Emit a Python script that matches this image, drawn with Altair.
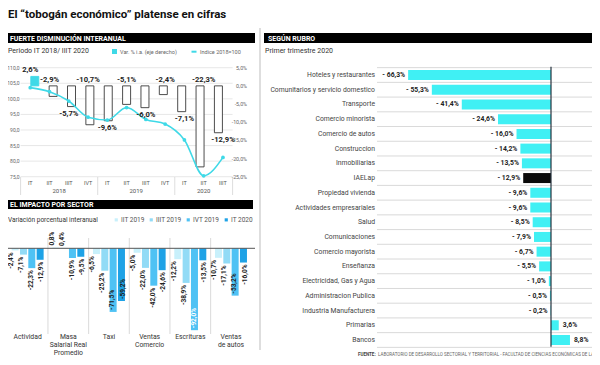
import altair as alt
import pandas as pd

FONT = "Roboto"

# ---------------- texts ----------------
title_text = "El “tobogán económico” platense en cifras"
head_left_1 = "FUERTE DISMINUCIÓN INTERANUAL"
sub_left_1 = "Periodo IT 2018/ IIIT 2020"
legend_1 = ["Var. % i.a. (eje derecho)", "Indice 2018=100"]
head_left_2 = "EL IMPACTO POR SECTOR"
sub_left_2 = "Variación porcentual interanual"
head_right = "SEGÚN RUBRO"
sub_right = "Primer trimestre 2020"
source_bold = "FUENTE:"
source_text = "LABORATORIO DE DESARROLLO SECTORIAL Y TERRITORIAL - FACULTAD DE CIENCIAS ECONÓMICAS DE LA UNLP"

# ---------------- chart 1 data ----------------
quarters = ["IT", "IIT", "IIIT", "IVT", "IT", "IIT", "IIIT", "IVT", "IT", "IIT", "IIIT"]
years = ["2018", "2018", "2018", "2018", "2019", "2019", "2019", "2019", "2020", "2020", "2020"]
var_ia = [2.6, -2.9, -5.7, -10.7, -9.6, -5.1, -6.0, -2.4, -7.1, -22.3, -12.9]
indice = [103.6, 102.3, 99.3, 94.1, 93.2, 97.2, 93.4, 91.9, 86.8, 75.3, 81.2]
label_side = ["top", "top", "bottom", "top", "bottom", "top", "bottom", "top", "bottom", "top", "bottom"]
idx_ticks = [75, 80, 85, 90, 95, 100, 105, 110]
pct_ticks = [-25, -20, -15, -10, -5, 0, 5]

# ---------------- chart 2 data ----------------
sectors = ["Actividad", "Masa\nSalarial Real\nPromedio", "Taxi", "Ventas\nComercio", "Escrituras", "Ventas\nde autos"]
series = ["IIT 2019", "IIIT 2019", "IVT 2019", "IT 2020"]
s_iit19 = [-2.4, 0.8, -6.5, -5.0, -12.2, -10.7]
s_iiit19 = [-7.1, 0.4, -25.2, -22.0, -38.9, -17.1]
s_ivt19 = [-22.3, -10.9, -71.5, -42.0, -92.0, -53.2]
s_it20 = [-12.9, -9.5, -59.2, -24.6, -13.5, -16.0]
series_colors = ["#c8f0fb", "#92dbf6", "#4fc2f4", "#1ea2e6"]

# ---------------- chart 3 data ----------------
rubros = ["Hoteles y restaurantes", "Comunitarios y servicio domestico", "Transporte",
          "Comercio minorista", "Comercio de autos", "Construccion", "Inmobiliarias", "IAELap",
          "Propiedad vivienda", "Actividades empresariales", "Salud", "Comunicaciones",
          "Comercio mayorista", "Enseñanza", "Electricidad, Gas y Agua", "Administracion Publica",
          "Industria Manufacturera", "Primarias", "Bancos"]
rubro_vals = [-66.3, -55.3, -41.4, -24.6, -16.0, -14.2, -13.5, -12.9, -9.6, -9.6, -8.5, -7.9,
              -6.7, -5.5, -1.0, -0.5, -0.2, 3.6, 8.8]

CY_LINE = "#3fd9e7"
CY_BAR = "#40f0f4"
TXT = "#333333"


def fmt(v, dec=1):
    return f"{v:.{dec}f}".replace(".", ",")


one = alt.Data(values=[{}])


def label(txt, x, y, size, color=TXT, weight="normal", align="left", baseline="middle"):
    return alt.Chart(one).mark_text(text=txt, font=FONT, fontSize=size, color=color,
                                    fontWeight=weight, align=align, baseline=baseline
                                    ).encode(x=alt.value(x), y=alt.value(y))


def box(x1, x2, y1, y2, color):
    return alt.Chart(one).mark_rect(color=color).encode(
        x=alt.value(x1), x2=alt.value(x2), y=alt.value(y1), y2=alt.value(y2))


def line(x1, x2, y1, y2, color, w=1.0):
    return alt.Chart(one).mark_rule(color=color, strokeWidth=w).encode(
        x=alt.value(x1), x2=alt.value(x2), y=alt.value(y1), y2=alt.value(y2))


layers = []

# ---------------- static layout ----------------
layers += [
    label(title_text, 0, 7, 11.5, color="#111", weight="bold"),
    box(0, 247, 25, 35, "#000"),
    label(head_left_1, 2, 30.5, 7, color="white", weight="bold"),
    box(256, 584, 25, 35, "#000"),
    label(head_right, 260, 30.5, 7, color="white", weight="bold"),
    label(sub_left_1, 0, 42.5, 7),
    label(sub_right, 257, 42.5, 7),
    box(104, 109, 41, 46, CY_LINE),
    label(legend_1[0], 112, 43.7, 5.5, color="#666"),
    line(183.5, 188.5, 43.7, 43.7, CY_LINE, 2),
    label(legend_1[1], 192, 43.7, 5.5, color="#666"),
    box(0, 245, 192, 201, "#000"),
    label(head_left_2, 2, 196.7, 7, color="white", weight="bold"),
    label(sub_left_2, 0, 212, 6.5),
    line(252, 252, 20, 342, "#bdbdbd", 1),
    label(source_bold, 350, 346.5, 4.5, color="#444", weight="bold"),
    label(source_text, 370, 346.5, 4.5, color="#666"),
]

# ---------------- chart 1 ----------------
xs1 = alt.Scale(domain=[-0.5, len(quarters) - 0.5], range=[12.6, 224.6], nice=False, zero=False)
ys_pct = alt.Scale(domain=[-25, 5], range=[168.7, 59.7], nice=False, zero=False)
ys_idx = alt.Scale(domain=[75, 110], range=[168.7, 59.7], nice=False, zero=False)

df1 = pd.DataFrame({"i": list(range(len(quarters))), "q": quarters, "year": years,
                    "v": var_ia, "idx": indice, "side": label_side})
df1["lab"] = [fmt(v) + "%" for v in var_ia]
df1["top"] = df1["v"].clip(lower=0)
base1 = alt.Chart(df1)
X1 = alt.X("i:Q", scale=xs1, axis=None)

gdf = pd.DataFrame({"t": idx_ticks, "lab": [fmt(t) for t in idx_ticks]})
layers.append(alt.Chart(gdf).mark_rule(color="#dcdcdc", strokeWidth=0.7).encode(
    y=alt.Y("t:Q", scale=ys_idx, axis=None), x=alt.value(12.6), x2=alt.value(224.6)))
layers.append(alt.Chart(gdf).mark_text(font=FONT, fontSize=5, color="#666", align="right",
                                       baseline="middle").encode(
    y=alt.Y("t:Q", scale=ys_idx, axis=None), x=alt.value(11.5), text="lab:N"))
rdf = pd.DataFrame({"t": pct_ticks, "lab": [fmt(t) + "%" for t in pct_ticks]})
layers.append(alt.Chart(rdf).mark_text(font=FONT, fontSize=5.3, color="#666", align="right",
                                       baseline="middle").encode(
    y=alt.Y("t:Q", scale=ys_pct, axis=None), x=alt.value(239), text="lab:N"))

layers.append(base1.mark_bar(width=8, strokeWidth=0.9).encode(
    x=X1, y=alt.Y("v:Q", scale=ys_pct, axis=None), y2=alt.datum(0),
    fill=alt.condition("datum.v > 0", alt.value(CY_LINE), alt.value("white")),
    stroke=alt.condition("datum.v > 0", alt.value(CY_LINE), alt.value("#3a3a3a"))))
layers.append(base1.mark_line(interpolate="monotone", color=CY_LINE, strokeWidth=1.6).encode(
    x=X1, y=alt.Y("idx:Q", scale=ys_idx, axis=None)))
layers.append(base1.mark_circle(size=14, color=CY_LINE, opacity=1).encode(
    x=X1, y=alt.Y("idx:Q", scale=ys_idx, axis=None)))
layers.append(base1.transform_filter("datum.side == 'top'").mark_text(
    font=FONT, fontSize=7.6, fontWeight="bold", color="#222", dy=-6, baseline="middle").encode(
    x=X1, y=alt.Y("top:Q", scale=ys_pct, axis=None), text="lab:N"))
layers.append(base1.transform_filter("datum.side == 'bottom'").mark_text(
    font=FONT, fontSize=7.6, fontWeight="bold", color="#222", dy=7, baseline="middle").encode(
    x=X1, y=alt.Y("v:Q", scale=ys_pct, axis=None), text="lab:N"))
layers.append(base1.mark_text(font=FONT, fontSize=5.5, color="#555", baseline="middle").encode(
    x=X1, y=alt.value(174.7), text="q:N"))
layers.append(base1.transform_aggregate(c="mean(i)", groupby=["year"]).mark_text(
    font=FONT, fontSize=6, color="#555", baseline="middle").encode(
    x=alt.X("c:Q", scale=xs1, axis=None), y=alt.value(183), text="year:N"))
layers.append(base1.transform_aggregate(lo="min(i)", groupby=["year"]).transform_calculate(
    b="datum.lo - 0.5").mark_rule(color="#cfcfcf", strokeWidth=0.7).encode(
    x=alt.X("b:Q", scale=xs1, axis=None), y=alt.value(169), y2=alt.value(187)))
layers.append(base1.transform_aggregate(hi="max(i)").transform_calculate(
    b="datum.hi + 0.5").mark_rule(color="#cfcfcf", strokeWidth=0.7).encode(
    x=alt.X("b:Q", scale=xs1, axis=None), y=alt.value(169), y2=alt.value(187)))

# ---------------- chart 2 ----------------
rows = []
for s, vals in zip(series, [s_iit19, s_iiit19, s_ivt19, s_it20]):
    for sec, v in zip(sectors, vals):
        rows.append({"sector": sec, "series": s, "v": v, "lab": fmt(v) + "%"})
df2 = pd.DataFrame(rows)
base2 = alt.Chart(df2)
xs2 = alt.Scale(domain=sectors, range=[-0.7, 243.3], paddingInner=0, paddingOuter=0)
xo2 = alt.Scale(domain=series, paddingInner=0.16, paddingOuter=0.52)
ys2 = alt.Scale(domain=[-100, 5], range=[329.3, 235.85], nice=False, zero=False)
X2 = alt.X("sector:N", scale=xs2, axis=None, sort=None)
XO2 = alt.XOffset("series:N", scale=xo2, sort=None)

layers.append(alt.Chart(pd.DataFrame({"sector": sectors[1:]})).mark_rule(
    color="#d0d0d0", strokeWidth=0.8).encode(
    x=alt.X("sector:N", scale=xs2, axis=None, bandPosition=0), y=alt.value(230), y2=alt.value(326)))
layers.append(base2.mark_bar().encode(
    x=X2, xOffset=XO2, y=alt.Y("v:Q", scale=ys2, axis=None), y2=alt.datum(0),
    color=alt.Color("series:N", scale=alt.Scale(domain=series, range=series_colors),
                    legend=alt.Legend(orient="none", legendX=105, legendY=208.5,
                                      direction="horizontal", title=None, symbolType="square",
                                      symbolSize=10, symbolStrokeWidth=0, labelFontSize=6.5,
                                      labelFont=FONT, labelColor="#555", columnPadding=3,
                                      labelOffset=1.5, padding=0))))
layers.append(alt.Chart(pd.DataFrame({"z": [0]})).mark_rule(color="#555", strokeWidth=1).encode(
    y=alt.Y("z:Q", scale=ys2, axis=None), x=alt.value(0), x2=alt.value(247)))
lab_common = dict(font=FONT, fontSize=6.5, fontWeight="bold", angle=270, baseline="middle", dy=-1.5)
layers.append(base2.transform_filter("datum.v < 0 && datum.v >= -45").mark_text(
    align="right", dx=-2, color="#222", **lab_common).encode(
    x=X2, xOffset=XO2, y=alt.Y("v:Q", scale=ys2, axis=None), text="lab:N"))
layers.append(base2.transform_filter("datum.v < -45").mark_text(
    align="left", dx=2, **lab_common).encode(
    x=X2, xOffset=XO2, y=alt.Y("v:Q", scale=ys2, axis=None), text="lab:N",
    color=alt.condition("datum.v < -80", alt.value("white"), alt.value("#222"))))
layers.append(base2.transform_filter("datum.v > 0").mark_text(
    align="left", dx=2, color="#222", **lab_common).encode(
    x=X2, xOffset=XO2, y=alt.Y("v:Q", scale=ys2, axis=None), text="lab:N"))
layers.append(alt.Chart(pd.DataFrame({"sector": sectors})).mark_text(
    font=FONT, fontSize=6.8, color=TXT, baseline="top", lineBreak="\n", lineHeight=8.2).encode(
    x=alt.X("sector:N", scale=xs2, axis=None), y=alt.value(325.5), text="sector:N"))

# ---------------- chart 3 ----------------
df3 = pd.DataFrame({"rubro": rubros, "v": rubro_vals})
df3["lab"] = [("- " + fmt(abs(v)) if v < 0 else fmt(v)) + "%" for v in rubro_vals]
base3 = alt.Chart(df3)
ys3 = alt.Scale(domain=rubros, range=[59.64, 339.36], paddingInner=0.32, paddingOuter=0.16)
xs3 = alt.Scale(domain=[-70, 20], range=[392.15, 586.1], nice=False, zero=False)
Y3 = alt.Y("rubro:N", scale=ys3, axis=None, sort=None)
X3 = alt.X("v:Q", scale=xs3, axis=None)

gl = pd.DataFrame({"g": [k - 0.5 for k in range(len(rubros) + 1)]})
layers.append(alt.Chart(gl).mark_rule(color="#cfcfcf", strokeWidth=0.8).encode(
    y=alt.Y("g:Q", scale=alt.Scale(domain=[-0.5, len(rubros) - 0.5], range=[59.64, 339.36],
                                   nice=False, zero=False), axis=None),
    x=alt.value(369), x2=alt.value(584)))
layers.append(base3.mark_bar().encode(
    y=Y3, x=X3, x2=alt.datum(0),
    color=alt.condition("datum.rubro == 'IAELap'", alt.value("#0a0a0a"), alt.value(CY_BAR))))
layers.append(alt.Chart(pd.DataFrame({"z": [0]})).mark_rule(color="#26333f", strokeWidth=1.2).encode(
    x=alt.X("z:Q", scale=xs3, axis=None), y=alt.value(58.7), y2=alt.value(338.7)))
layers.append(base3.mark_text(font=FONT, fontSize=6.8, color="#444", align="right",
                              baseline="middle").encode(
    y=Y3, x=alt.value(367), text="rubro:N"))
layers.append(base3.transform_filter("datum.v < 0").mark_text(
    font=FONT, fontSize=6.8, fontWeight="bold", color="#222", align="right", dx=-3,
    baseline="middle").encode(y=Y3, x=X3, text="lab:N"))
layers.append(base3.transform_filter("datum.v > 0").mark_text(
    font=FONT, fontSize=6.8, fontWeight="bold", color="#222", align="left", dx=4,
    baseline="middle").encode(y=Y3, x=X3, text="lab:N"))

chart = alt.layer(*layers).resolve_scale(
    x="independent", y="independent", xOffset="independent", color="independent"
).properties(
    width=584, height=349, padding=0, background="white",
    autosize=alt.AutoSizeParams(type="none")
).configure_view(stroke=None)

chart.save("out.html", embed_options={"renderer": "svg", "actions": False})
